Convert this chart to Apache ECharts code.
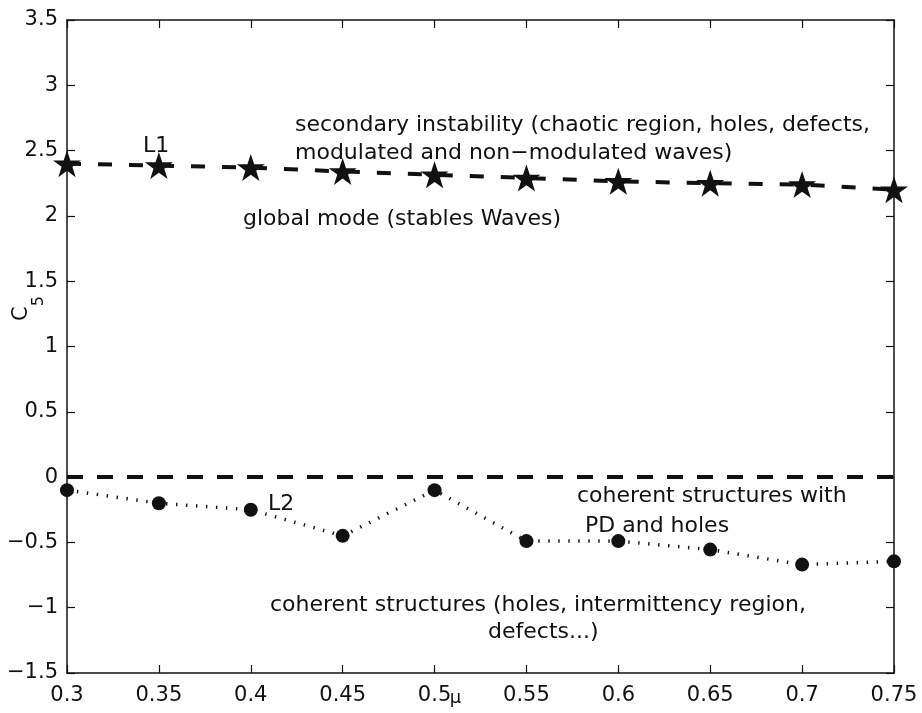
<!DOCTYPE html>
<html>
<head>
<meta charset="utf-8">
<script src="https://cdn.jsdelivr.net/npm/echarts@6/dist/echarts.min.js"></script>
<style>
  html, body { margin: 0; padding: 0; background: #fff; }
  #chart { width: 922px; height: 713px; }
</style>
</head>
<body>
<div id="chart"></div>
<script>
// Control parameter values along the horizontal axis
var mu = [0.3, 0.35, 0.4, 0.45, 0.5, 0.55, 0.6, 0.65, 0.7, 0.75];
// Upper boundary L1 (secondary instability threshold)
var l1Values = [2.40, 2.385, 2.37, 2.34, 2.315, 2.29, 2.265, 2.25, 2.24, 2.20];
// Lower boundary L2 (coherent structures threshold)
var l2Values = [-0.10, -0.20, -0.25, -0.45, -0.10, -0.49, -0.49, -0.555, -0.67, -0.645];
// Axis tick settings
var xTicks = { min: 0.3, max: 0.75, step: 0.05 };
var yTicks = { min: -1.5, max: 3.5, step: 0.5 };

var FONT = 'DejaVu Sans';
var INK = '#111';
var TEXT_SIZE = 22;

function pairs(xs, ys) {
  return xs.map(function (x, i) { return [x, ys[i]]; });
}
function minusSign(v) {
  return String(+v.toFixed(2)).replace('-', '\u2212');
}

var star = 'path://M50,0 L61.8,35.1 L98.9,35.1 L68.9,56.9 L80.3,92.7 L50,70.8 L19.7,92.7 L31.1,56.9 L1.1,35.1 L38.2,35.1 Z';

var axisLine = { show: true, onZero: false, lineStyle: { color: INK, width: 1.5 } };
var axisTick = { show: true, inside: true, length: 8, lineStyle: { color: INK, width: 1.2 } };

var chart = echarts.init(document.getElementById('chart'));

var annotations = [
  { x: 295, y: 127, text: 'secondary instability (chaotic region, holes, defects,' },
  { x: 295, y: 155, text: 'modulated and non\u2212modulated waves)' },
  { x: 243, y: 221, text: 'global mode (stables Waves)' },
  { x: 143, y: 148, text: 'L1' },
  { x: 268, y: 506, text: 'L2' },
  { x: 577, y: 498, text: 'coherent structures with' },
  { x: 585, y: 528, text: 'PD and holes' },
  { x: 270, y: 607, text: 'coherent structures (holes, intermittency region,' },
  { x: 488, y: 634, text: 'defects...)' }
];

chart.setOption({
  animation: false,
  backgroundColor: '#fff',
  grid: { left: 67, right: 28, top: 20, bottom: 40, containLabel: false, outerBoundsMode: 'none' },
  xAxis: [
    {
      type: 'value', min: xTicks.min, max: xTicks.max, interval: xTicks.step,
      position: 'bottom',
      axisLine: axisLine, axisTick: axisTick, splitLine: { show: false },
      axisLabel: { color: INK, fontFamily: FONT, fontSize: 21, margin: 12, formatter: minusSign },
      name: '\u03bc', nameLocation: 'middle', nameGap: 16, nameMoveOverlap: false,
      nameTextStyle: { color: INK, fontFamily: FONT, fontSize: 18, padding: [0, 50, 0, 0] }
    },
    {
      type: 'value', min: xTicks.min, max: xTicks.max, interval: xTicks.step,
      position: 'top',
      axisLine: axisLine, axisTick: axisTick, splitLine: { show: false },
      axisLabel: { show: false }
    }
  ],
  yAxis: [
    {
      type: 'value', min: yTicks.min, max: yTicks.max, interval: yTicks.step,
      position: 'left',
      axisLine: axisLine, axisTick: axisTick, splitLine: { show: false },
      axisLabel: { color: INK, fontFamily: FONT, fontSize: 21, margin: 9, formatter: minusSign },
      name: '{c|C}{s|5}', nameLocation: 'middle', nameGap: 20, nameRotate: 90, nameMoveOverlap: false,
      nameTextStyle: {
        color: INK, fontFamily: FONT, padding: [0, 0, 0, 76],
        rich: {
          c: { fontSize: 21, fontFamily: FONT, color: INK },
          s: { fontSize: 16, fontFamily: FONT, color: INK, padding: [34, 0, 0, 0] }
        }
      }
    },
    {
      type: 'value', min: yTicks.min, max: yTicks.max, interval: yTicks.step,
      position: 'right',
      axisLine: axisLine, axisTick: axisTick, splitLine: { show: false },
      axisLabel: { show: false }
    }
  ],
  series: [
    {
      name: 'L1',
      type: 'line',
      data: pairs(mu, l1Values),
      symbol: star,
      symbolSize: [28, 27],
      itemStyle: { color: INK },
      lineStyle: { color: INK, width: 4, type: [14, 17] },
      z: 3
    },
    {
      name: 'L2',
      type: 'line',
      data: pairs(mu, l2Values),
      symbol: 'circle',
      symbolSize: 14,
      itemStyle: { color: INK },
      lineStyle: { color: INK, width: 3.5, type: [1.4, 8.6] },
      markLine: {
        silent: true,
        symbol: ['none', 'none'],
        label: { show: false },
        lineStyle: { color: INK, width: 4, type: [16, 14] },
        data: [{ yAxis: 0 }]
      },
      z: 3
    }
  ],
  graphic: annotations.map(function (a) {
    return {
      type: 'text', left: a.x, top: a.y - 13, z: 10,
      style: { text: a.text, fontFamily: FONT, fontSize: TEXT_SIZE, fill: INK }
    };
  })
});
</script>
</body>
</html>
